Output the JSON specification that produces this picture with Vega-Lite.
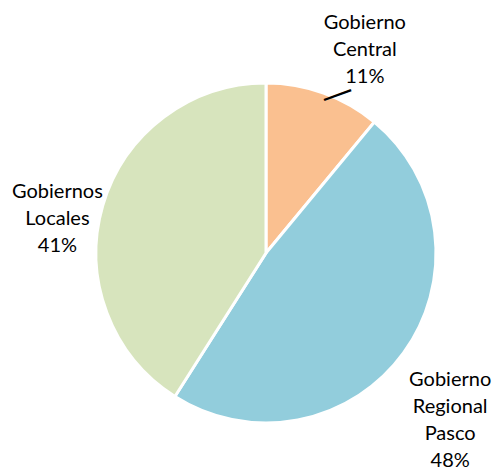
{
  "$schema": "https://vega.github.io/schema/vega-lite/v6.json",
  "width": 340,
  "height": 340,
  "autosize": {"type": "none"},
  "padding": {"left": 96, "top": 83, "right": 60, "bottom": 45},
  "background": "white",
  "data": {
    "values": [
      {"sector": "Gobierno Central", "label": "Gobierno\nCentral\n11%", "value": 11, "orden": 1},
      {"sector": "Gobierno Regional Pasco", "label": "Gobierno\nRegional\nPasco\n48%", "value": 48, "orden": 2},
      {"sector": "Gobiernos Locales", "label": "Gobiernos\nLocales\n41%", "value": 41, "orden": 3}
    ]
  },
  "encoding": {
    "theta": {"field": "value", "type": "quantitative", "stack": true},
    "order": {"field": "orden", "type": "quantitative"}
  },
  "layer": [
    {
      "mark": {"type": "arc", "outerRadius": 170, "stroke": "white", "strokeWidth": 3},
      "encoding": {
        "color": {
          "field": "sector",
          "type": "nominal",
          "scale": {"domain": ["Gobierno Central", "Gobierno Regional Pasco", "Gobiernos Locales"], "range": ["#FAC090", "#92CDDC", "#D7E4BD"]},
          "legend": null
        }
      }
    },
    {
      "mark": {"type": "text", "radius": 180, "dx": 6, "dy": 13, "angle": -20, "font": "DejaVu Sans", "fontSize": 32, "align": "center", "baseline": "middle", "color": "black"},
      "encoding": {"text": {"condition": {"test": "datum.orden == 1", "value": "—"}, "value": ""}}
    },
    {
      "mark": {"type": "text", "radius": 218, "dx": 25, "dy": -25, "font": "Lato", "fontSize": 20, "lineHeight": 27, "lineBreak": "\n", "align": "center", "baseline": "middle", "color": "black"},
      "encoding": {"text": {"condition": {"test": "datum.orden == 1", "field": "label"}, "value": ""}}
    },
    {
      "mark": {"type": "text", "radius": 240, "dx": -10, "dy": -14, "font": "Lato", "fontSize": 20, "lineHeight": 27, "lineBreak": "\n", "align": "center", "baseline": "middle", "color": "black"},
      "encoding": {"text": {"condition": {"test": "datum.orden == 2", "field": "label"}, "value": ""}}
    },
    {
      "mark": {"type": "text", "radius": 212, "dx": -5, "dy": -2, "font": "Lato", "fontSize": 20, "lineHeight": 27, "lineBreak": "\n", "align": "center", "baseline": "middle", "color": "black"},
      "encoding": {"text": {"condition": {"test": "datum.orden == 3", "field": "label"}, "value": ""}}
    }
  ]
}
